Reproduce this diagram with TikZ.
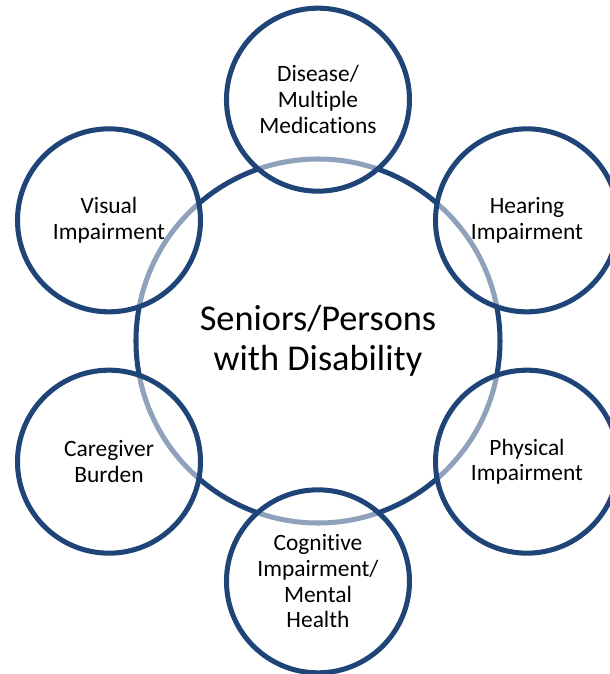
\documentclass[tikz,border=0pt]{standalone}
\usepackage{tikz}
\usepackage{xcolor}
\usepackage{fontspec}
\setmainfont{Carlito}[Ligatures=NoCommon]

\definecolor{ringblue}{RGB}{31,68,119}

\tikzset{
  hub/.style={circle, draw=ringblue, line width=4.3pt, minimum size=10.92cm, inner sep=0pt,
    align=center, font=\fontsize{31}{34}\selectfont},
  spoke/.style={circle, draw=ringblue, line width=4.3pt, minimum size=5.49cm, inner sep=0pt,
    fill=white, fill opacity=0.5, draw opacity=1, text opacity=1,
    align=center, font=\fontsize{20}{22}\selectfont}
}

\begin{document}
\begin{tikzpicture}
            % page frame
            \useasboundingbox (-9.54,-9.99) rectangle (8.76,10.23);
            \clip (-9.54,-9.99) rectangle (8.76,10.23);

            % Middle ring
            \node (S) at (0, 0) [hub] {Seniors/Persons\\with Disability};

            % Outer rings
            \node (D1) at (90:7.24) [spoke] {Disease/\\Multiple\\Medications};
            \node (D2) at (30:7.24) [spoke] {Hearing\\Impairment};
            \node (D3) at (-30:7.24) [spoke] {Physical\\Impairment};
            \node (D4) at (-90:7.21) [spoke] {Cognitive\\Impairment/\\Mental\\Health};
            \node (D5) at (-150:7.24) [spoke] {Caregiver\\Burden};
            \node (D6) at (150:7.24) [spoke] {Visual\\Impairment};
        \end{tikzpicture}
\end{document}
